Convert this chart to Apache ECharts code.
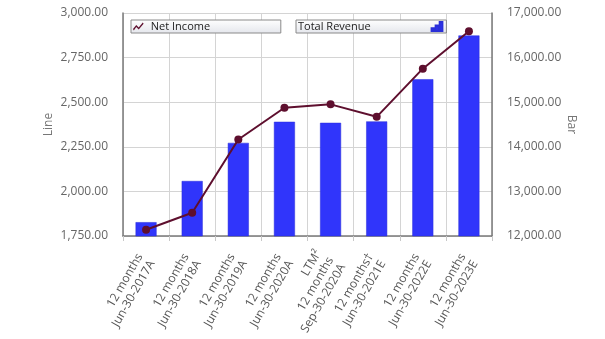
<!DOCTYPE html>
<html>
<head>
<meta charset="utf-8">
<script src="https://cdn.jsdelivr.net/npm/echarts@6/dist/echarts.min.js"></script>
<style>
html,body{margin:0;padding:0;background:#fff;}
#chart{width:605px;height:339px;}
</style>
</head>
<body>
<div id="chart"></div>
<script>
var categories = [
  "12 months\nJun-30-2017A",
  "12 months\nJun-30-2018A",
  "12 months\nJun-30-2019A",
  "12 months\nJun-30-2020A",
  "LTM²\n12 months\nSep-30-2020A",
  "12 months†\nJun-30-2021E",
  "12 months\nJun-30-2022E",
  "12 months\nJun-30-2023E"
];
var totalRevenue = [12310, 13233, 14088, 14561, 14538, 14570, 15515, 16496];
var netIncome = [1785, 1880, 2291, 2469, 2488, 2418, 2688, 2898];
var lineTicks = {min: 1750, max: 3000, interval: 250};
var barTicks = {min: 12000, max: 17000, interval: 1000};

var FONT = "'Open Sans', 'DejaVu Sans', sans-serif";
var lineColor = "#5e0f2e";
var barColor = "#3035fb";
var legendBg = new echarts.graphic.LinearGradient(0, 0, 0, 1, [
  {offset: 0, color: "#ffffff"},
  {offset: 1, color: "#e4e6ec"}
]);
function fmt(v) {
  return v.toLocaleString("en-US", {minimumFractionDigits: 2, maximumFractionDigits: 2});
}
var legendRich = {t: {width: 128, align: "left", fontSize: 11, color: "#222", fontFamily: FONT, lineHeight: 11}};

var chart = echarts.init(document.getElementById("chart"), null, {renderer: "canvas"});
chart.setOption({
  animation: false,
  backgroundColor: "#ffffff",
  textStyle: {fontFamily: FONT},
  grid: {left: 123, right: 113, top: 13, bottom: 103, containLabel: false},
  legend: [
    {
      data: [{name: "Net Income", icon: "path://M0,8 L4,3 L7,6 L12,0 L13,1.5 L7,8.5 L4,5.5 L1,9.8 Z"}],
      left: 131, top: 20,
      padding: [1, 2, 1, 2],
      itemWidth: 15, itemHeight: 8,
      backgroundColor: legendBg,
      borderColor: "#8a8a8a", borderWidth: 1,
      formatter: function (n) { return "{t|" + n + "}"; },
      textStyle: {rich: legendRich},
      selectedMode: false
    },
    {
      data: [{name: "Total Revenue", icon: "path://M0,10 L3,10 L3,7 L0,7 Z M4.5,10 L7.5,10 L7.5,4 L4.5,4 Z M9,10 L12,10 L12,0 L9,0 Z"}],
      left: 296, top: 20,
      align: "right",
      padding: [1, 3, 1, 2],
      itemWidth: 12, itemHeight: 9,
      backgroundColor: legendBg,
      borderColor: "#8a8a8a", borderWidth: 1,
      formatter: function (n) { return "{t|" + n + "}"; },
      textStyle: {rich: legendRich},
      selectedMode: false
    }
  ],
  xAxis: {
    type: "category",
    data: categories,
    boundaryGap: true,
    axisLine: {show: true, lineStyle: {color: "#7a7a7a", width: 1.5}},
    axisTick: {show: true, length: 5, lineStyle: {color: "#c8c8c8"}},
    splitLine: {show: true, lineStyle: {color: "#d4d4d4", width: 1}},
    axisLabel: {rotate: 60, interval: 0, fontSize: 12, color: "#555", fontFamily: FONT, margin: 22, lineHeight: 14}
  },
  yAxis: [
    {
      type: "value",
      name: "Line",
      nameLocation: "middle",
      nameRotate: 90,
      nameGap: 68,
      nameMoveOverlap: false,
      nameTextStyle: {fontSize: 12, color: "#777", fontFamily: FONT},
      min: lineTicks.min, max: lineTicks.max, interval: lineTicks.interval,
      position: "left",
      axisLine: {show: true, lineStyle: {color: "#7a7a7a", width: 1.5}},
      axisTick: {show: false},
      splitLine: {show: true, lineStyle: {color: "#d4d4d4", width: 1}},
      axisLabel: {formatter: fmt, fontSize: 12, color: "#666", fontFamily: FONT, margin: 15}
    },
    {
      type: "value",
      name: "Bar",
      nameLocation: "middle",
      nameRotate: -90,
      nameGap: 73,
      nameMoveOverlap: false,
      nameTextStyle: {fontSize: 12, color: "#777", fontFamily: FONT},
      min: barTicks.min, max: barTicks.max, interval: barTicks.interval,
      position: "right",
      axisLine: {show: true, lineStyle: {color: "#7a7a7a", width: 1.5}},
      axisTick: {show: false},
      splitLine: {show: false},
      axisLabel: {formatter: fmt, fontSize: 12, color: "#666", fontFamily: FONT, margin: 15}
    }
  ],
  series: [
    {
      name: "Total Revenue",
      type: "bar",
      yAxisIndex: 1,
      data: totalRevenue,
      barWidth: 21,
      itemStyle: {color: barColor, borderColor: "#2a2fd8", borderWidth: 0.5},
      z: 2
    },
    {
      name: "Net Income",
      type: "line",
      yAxisIndex: 0,
      data: netIncome,
      symbol: "circle",
      symbolSize: 8,
      lineStyle: {color: lineColor, width: 2},
      itemStyle: {color: lineColor},
      z: 3
    }
  ]
});
</script>
</body>
</html>
